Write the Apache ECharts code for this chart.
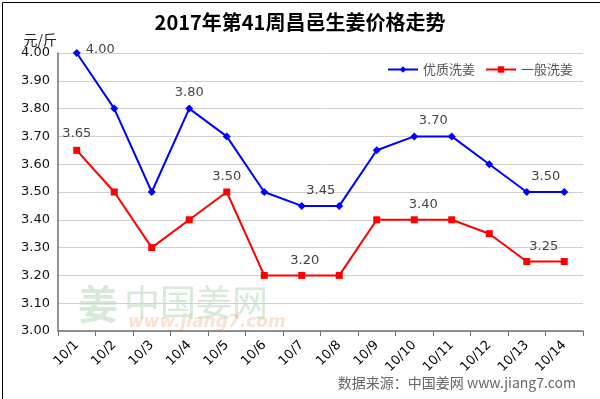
<!DOCTYPE html>
<html>
<head>
<meta charset="utf-8">
<script src="https://cdn.jsdelivr.net/npm/echarts@6/dist/echarts.min.js"></script>
<style>
  html, body { margin: 0; padding: 0; background: #fff; }
  #chart { width: 600px; height: 399px; }
</style>
</head>
<body>
<div id="chart"></div>
<script>
const categories = ['10/1', '10/2', '10/3', '10/4', '10/5', '10/6', '10/7', '10/8', '10/9', '10/10', '10/11', '10/12', '10/13', '10/14']
const premium = [4.00, 3.80, 3.50, 3.80, 3.70, 3.50, 3.45, 3.45, 3.65, 3.70, 3.70, 3.60, 3.50, 3.50]
const regular = [3.65, 3.50, 3.30, 3.40, 3.50, 3.20, 3.20, 3.20, 3.40, 3.40, 3.40, 3.35, 3.25, 3.25]
const yTicks = [3.0, 3.1, 3.2, 3.3, 3.4, 3.5, 3.6, 3.7, 3.8, 3.9, 4.0]

// which points carry a value label, and where it sits
const premiumLabels = { 0: ['right', [0, -3]], 3: ['top', [0, 0]], 6: ['top', [19, 0]], 9: ['top', [19, 0]], 12: ['top', [19, 0]] }
const regularLabels = { 0: ['top', [0, -2]], 4: ['top', [0, 0]], 6: ['top', [3, 0]], 9: ['top', [9, 0]], 12: ['top', [17, 0]] }

const labelStyle = { color: '#444', fontSize: 13, fontFamily: 'DejaVu Sans' }

function withLabels(values, labels) {
  return values.map((v, i) => {
    if (!labels[i]) return v
    return {
      value: v,
      label: {
        show: true,
        position: labels[i][0],
        offset: labels[i][1],
        formatter: (p) => p.value.toFixed(2),
        ...labelStyle
      }
    }
  })
}

const chart = echarts.init(document.getElementById('chart'))

const option = {
  backgroundColor: '#fff',
  animation: false,
  title: {
    text: '2017年第41周昌邑生姜价格走势',
    left: 'center',
    top: 7,
    textStyle: { color: '#000', fontSize: 20, fontWeight: 'bold', fontFamily: 'Noto Sans CJK SC' }
  },
  legend: {
    right: 22,
    top: 58,
    itemWidth: 30,
    itemHeight: 8,
    itemGap: 10,
    textStyle: { color: '#555', fontSize: 13, fontFamily: 'Noto Sans CJK SC' },
    data: ['优质洗姜', '一般洗姜']
  },
  grid: {
    left: 58,
    right: 17,
    top: 53,
    bottom: 68
  },
  xAxis: {
    type: 'category',
    data: categories,
    boundaryGap: true,
    axisLine: { lineStyle: { color: '#707070', width: 1.5 } },
    axisTick: { show: true, length: 5, lineStyle: { color: '#707070' } },
    axisLabel: { rotate: 45, color: '#000', fontSize: 13, fontFamily: 'DejaVu Sans', margin: 12 },
    splitLine: { show: false }
  },
  yAxis: {
    type: 'value',
    min: yTicks[0],
    max: yTicks[yTicks.length - 1],
    interval: 0.1,
    name: '元/斤',
    nameLocation: 'end',
    nameGap: 3,
    nameTextStyle: { color: '#222', fontSize: 14, align: 'right', padding: [0, 1, 0, 0], fontFamily: 'Noto Sans CJK SC' },
    axisLine: { show: true, lineStyle: { color: '#707070', width: 1.5 } },
    axisTick: { show: false },
    axisLabel: { color: '#111', fontSize: 13, fontFamily: 'DejaVu Sans', margin: 8, formatter: (v) => v.toFixed(2) },
    splitLine: { lineStyle: { color: '#d0d0d0', width: 1 } }
  },
  graphic: [
    {
      type: 'text', left: 78, top: 284, silent: true,
      style: { text: '姜', fill: 'rgba(110,180,110,0.28)', font: 'bold 40px "Noto Sans CJK SC"' }
    },
    {
      type: 'text', left: 124, top: 284, silent: true,
      style: { text: '中国姜网', fill: 'rgba(110,180,110,0.28)', font: '36px "Noto Sans CJK SC"' }
    },
    {
      type: 'text', left: 128, top: 314, silent: true,
      style: { text: 'www.jiang7.com', fill: 'rgba(240,160,110,0.3)', font: 'italic bold 17px "DejaVu Sans"' }
    },
    {
      type: 'text', right: 24, top: 376, silent: true,
      style: { text: '数据来源：中国姜网 www.jiang7.com', fill: '#666', font: '14px "Noto Sans CJK SC"' }
    },
    {
      type: 'rect', left: 0, top: 0, silent: true,
      shape: { x: 0.5, y: 0.5, width: 599, height: 398 },
      style: { fill: 'none', stroke: '#000', lineWidth: 1 }
    }
  ],
  series: [
    {
      name: '优质洗姜',
      type: 'line',
      data: withLabels(premium, premiumLabels),
      symbol: 'diamond',
      symbolSize: 8,
      lineStyle: { color: '#0000ff', width: 2 },
      itemStyle: { color: '#0000ff' },
      label: { show: false }
    },
    {
      name: '一般洗姜',
      type: 'line',
      data: withLabels(regular, regularLabels),
      symbol: 'rect',
      symbolSize: 7,
      lineStyle: { color: '#ff0000', width: 2 },
      itemStyle: { color: '#ff0000' },
      label: { show: false }
    }
  ]
}

chart.setOption(option)
window.addEventListener('resize', () => chart.resize())
</script>
</body>
</html>
